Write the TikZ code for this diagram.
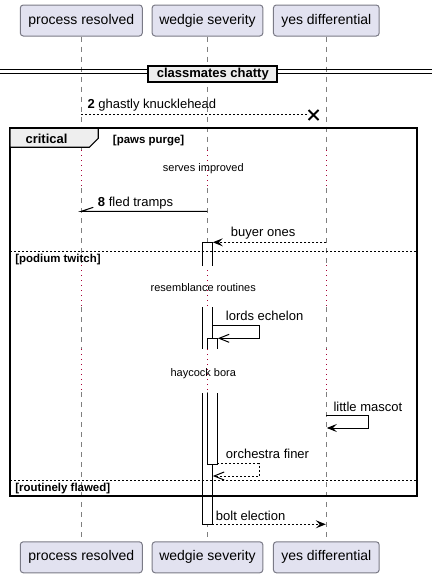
\documentclass[tikz,border=0pt]{standalone}
\usepackage{fontspec}
\setmainfont{Liberation Sans}
\usetikzlibrary{arrows.meta,calc}
\definecolor{partfill}{HTML}{E2E2F0}
\definecolor{partdraw}{HTML}{7A7A86}
\definecolor{lifecol}{HTML}{7F7F7F}
\definecolor{delaycol}{HTML}{A80036}
\definecolor{grpfill}{HTML}{EEEEEE}
\tikzset{
  part/.style={draw=partdraw, fill=partfill, rounded corners=2.25pt, minimum height=23.25pt,
    inner sep=0pt, font=\fontsize{10.5}{12}\selectfont, line width=0.75pt},
  life/.style={draw=lifecol, line width=0.75pt, dash pattern=on 3.75pt off 3.75pt},
  delayline/.style={draw=delaycol, line width=0.75pt, dash pattern=on 0.75pt off 3pt},
  actbox/.style={draw=black, line width=0.75pt},
  msg/.style={draw=black, line width=0.75pt},
  dmsg/.style={msg, dash pattern=on 1.5pt off 1.5pt},
  lbl/.style={font=\fontsize{9.75}{11}\selectfont, anchor=base west, inner sep=0pt},
  glbl/.style={font=\bfseries\fontsize{8.6}{10}\selectfont, anchor=base west, inner sep=0pt},
  dtxt/.style={font=\fontsize{8.25}{10}\selectfont, inner sep=0pt},
  farrow/.style={-{Stealth[length=7.5pt,width=6pt,inset=3pt]}},
  oarrow/.style={-{Straight Barb[length=7.5pt,width=6pt]}},
  sepline/.style={draw=black, line width=0.75pt, dash pattern=on 1.5pt off 1.5pt},
}
\begin{document}
\begin{tikzpicture}[x=0.75pt,y=-0.75pt]
\useasboundingbox (0,0) rectangle (432,578);

% participants
\node[part, minimum width=91.5pt] (pt1) at (81.3,20.5) {process resolved};
\node[part, minimum width=83pt] (pt2) at (207.5,20.5) {wedgie severity};
\node[part, minimum width=79.3pt] (pt3) at (326.3,20.5) {yes differential};
\node[part, minimum width=91.5pt] (pb1) at (81.3,557.3) {process resolved};
\node[part, minimum width=83pt] (pb2) at (207.5,557.3) {wedgie severity};
\node[part, minimum width=79.3pt] (pb3) at (326.3,557.3) {yes differential};

% lifelines
\foreach \n in {1,2,3} {
  \draw[life] (pt\n.south) -- (pt\n.south |- 0,150);
  \draw[delayline] (pt\n.south |- 0,150) -- (pt\n.south |- 0,188);
  \draw[life] (pt\n.south |- 0,188) -- (pt\n.south |- 0,265);
  \draw[delayline] (pt\n.south |- 0,265) -- (pt\n.south |- 0,307);
  \draw[life] (pt\n.south |- 0,307) -- (pt\n.south |- 0,349);
  \draw[delayline] (pt\n.south |- 0,349) -- (pt\n.south |- 0,392);
  \draw[life] (pt\n.south |- 0,392) -- (pb\n.north);
}

% divider
\draw[line width=0.75pt] (0,69) -- (148.3,69) (0,73) -- (148.3,73);
\draw[line width=0.75pt] (277.3,69) -- (432,69) (277.3,73) -- (432,73);
\node[draw=black, line width=1.5pt, fill=grpfill, minimum width=96.75pt, minimum height=12pt,
  inner sep=0pt, font=\bfseries\fontsize{9.75}{11}\selectfont] (div) at (212.8,74) {classmates chatty};

% message 2
\coordinate (m2a) at (81.3,114.5);
\coordinate (m2b) at (308,114.5);
\coordinate (xm) at (313.5,115);
\draw[dmsg] (m2a) -- (m2b);
\draw[line width=1.5pt] ($(xm)+(-5,-5)$) -- ($(xm)+(5,5)$) ($(xm)+(-5,5)$) -- ($(xm)+(5,-5)$);
\node[lbl] (l2) at (87.3,108) {\textbf{2} ghastly knucklehead};

% activations (outer)
\fill[white] (202.3,242.3) rectangle (212.3,266);
\draw[actbox] (202.3,266) -- (202.3,242.3) -- (212.3,242.3) -- (212.3,266);
\fill[white] (202.3,307) rectangle (212.3,349);
\draw[actbox] (202.3,307) -- (202.3,349) (212.3,307) -- (212.3,349);
\fill[white] (202.3,393) rectangle (212.3,524.3);
\draw[actbox] (202.3,393) -- (202.3,524.3) -- (212.3,524.3) -- (212.3,393);
% inner
\fill[white] (207.3,338.3) rectangle (217.3,349);
\draw[actbox] (207.3,349) -- (207.3,338.3) -- (217.3,338.3) -- (217.3,349);
\fill[white] (207.3,393) rectangle (217.3,464);
\draw[actbox] (207.3,393) -- (207.3,464) -- (217.3,464) -- (217.3,393);

% group frame
\draw[line width=1.3pt] (10,128.3) rectangle (416.7,495.7);
\filldraw[fill=grpfill, draw=black, line width=0.9pt] (10,128.3) -- (98.3,128.3) -- (98.3,138.3) -- (89.3,147.3) -- (10,147.3) -- cycle;
\node[font=\bfseries\fontsize{9.75}{11}\selectfont, anchor=base, inner sep=0pt] (crit) at (46.5,143) {critical};
\node[glbl] (g1) at (112.7,143) {[paws purge]};
\draw[sepline] (10,251.3) -- (416.7,251.3);
\node[glbl] (g2) at (15,262.5) {[podium twitch]};
\draw[sepline] (10,480.3) -- (416.7,480.3);
\node[glbl] (g3) at (15,491.5) {[routinely flawed]};

% delay texts
\node[dtxt] (d1) at (203.3,169) {serves improved};
\node[dtxt] (d2) at (203.3,287.3) {resemblance routines};
\node[dtxt] (d3) at (203.3,373.3) {haycock bora};

% message 8
\coordinate (m8a) at (207.3,211.3);
\coordinate (m8b) at (81.3,211.3);
\draw[msg] (m8a) -- (m8b) -- ++(12,-4);
\node[lbl] (l8) at (97.7,206.5) {\textbf{8} fled tramps};

% buyer ones
\coordinate (bya) at (326.3,242.3);
\coordinate (byb) at (212.8,242.3);
\draw[dmsg, farrow] (bya) -- (byb);
\node[lbl] (lby) at (230.7,236.5) {buyer ones};

% lords echelon
\coordinate (lea) at (212.3,325.3);
\coordinate (leb) at (217.8,338.3);
\draw[msg, oarrow] (lea) -- (259.3,325.3) -- (259.3,338.3) -- (leb);
\node[lbl] (lle) at (225.7,320) {lords echelon};

% little mascot
\coordinate (lma) at (326.3,415.3);
\coordinate (lmb) at (326.8,428);
\draw[msg, farrow] (lma) -- (368.3,415.3) -- (368.3,428) -- (lmb);
\node[lbl] (llm) at (333.3,411) {little mascot};

% orchestra finer
\coordinate (ofa) at (217.3,463.5);
\coordinate (ofb) at (212.8,476);
\draw[dmsg, oarrow] (ofa) -- (259.3,463.5) -- (259.3,476) -- (ofb);
\node[lbl] (lof) at (225.7,458.3) {orchestra finer};

% bolt election
\coordinate (bea) at (212.3,524.3);
\coordinate (beb) at (325.8,524.3);
\draw[dmsg, farrow] (bea) -- (beb);
\node[lbl] (lbe) at (215.7,520) {bolt election};
\end{tikzpicture}
\end{document}
